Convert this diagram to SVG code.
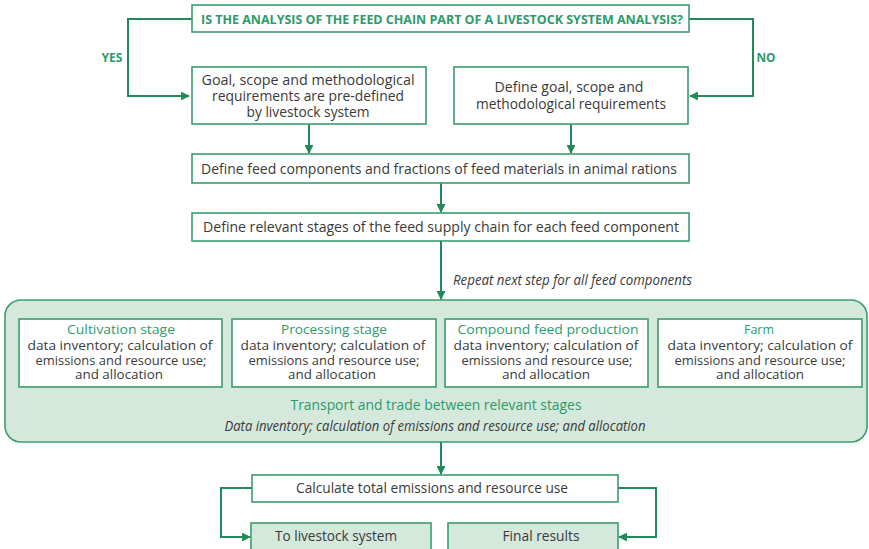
<svg xmlns="http://www.w3.org/2000/svg" width="869" height="549" viewBox="0 0 869 549">
  <style>
    .box { fill: #ffffff; stroke: #3a9d6f; stroke-width: 1.6; }
    .pale { fill: #d4e8dc; stroke: #3a9d6f; stroke-width: 1.6; }
    .wire { fill: none; stroke: #22895a; stroke-width: 2; }
    text { font-family: "Open Sans", "Noto Sans", "Liberation Sans", sans-serif; }
    .t { font-size: 14.5px; fill: #3a3a3a; text-anchor: middle; }
    .s { font-size: 13px; fill: #3a3a3a; text-anchor: middle; }
    .g { font-size: 14.5px; fill: #2e9a6b; text-anchor: middle; }
    .gs { font-size: 13.5px; fill: #2e9a6b; text-anchor: middle; }
    .cap { font-size: 13px; font-weight: bold; fill: #2e9a6b; text-anchor: middle; }
    .it { font-size: 14px; font-style: italic; fill: #3a3a3a; }
  </style>
  <defs>
    <marker id="arrow" viewBox="0 0 10 10" refX="9" refY="5" markerWidth="4.4" markerHeight="4.4" orient="auto" markerUnits="strokeWidth">
      <path d="M0,0 L10,5 L0,10 z" fill="#22895a"/>
    </marker>
  </defs>

  <rect width="869" height="549" fill="#ffffff"/>

  <!-- transport container behind the stage boxes -->
  <g id="transport">
    <rect x="5" y="300" width="862" height="142" rx="16" ry="16" class="pale" stroke="#5cae86"/>
    <text x="436" y="410" class="g" textLength="291" lengthAdjust="spacingAndGlyphs">Transport and trade between relevant stages</text>
    <text x="435" y="431" class="it" text-anchor="middle" textLength="421" lengthAdjust="spacingAndGlyphs">Data inventory; calculation of emissions and resource use; and allocation</text>
  </g>

  <!-- connectors -->
  <g id="connectors">
    <polyline class="wire" points="192,19 128,19 128,96 189,96" marker-end="url(#arrow)"/>
    <polyline class="wire" points="689,19 753,19 753,96 690,96" marker-end="url(#arrow)"/>
    <line class="wire" x1="309" y1="124" x2="309" y2="153" marker-end="url(#arrow)"/>
    <line class="wire" x1="571" y1="124" x2="571" y2="153" marker-end="url(#arrow)"/>
    <line class="wire" x1="441" y1="183" x2="441" y2="212" marker-end="url(#arrow)"/>
    <line class="wire" x1="441" y1="241" x2="441" y2="299" marker-end="url(#arrow)"/>
    <line class="wire" x1="441" y1="442" x2="441" y2="474" marker-end="url(#arrow)"/>
    <polyline class="wire" points="252,488 221,488 221,537 250,537" marker-end="url(#arrow)"/>
    <polyline class="wire" points="618,488 656,488 656,537 619,537" marker-end="url(#arrow)"/>
  </g>

  <g id="labels">
    <text x="112" y="61.5" class="cap" textLength="21" lengthAdjust="spacingAndGlyphs">YES</text>
    <text x="766" y="61.5" class="cap" textLength="19" lengthAdjust="spacingAndGlyphs">NO</text>
    <text x="453" y="284.5" class="it" textLength="239" lengthAdjust="spacingAndGlyphs">Repeat next step for all feed components</text>
  </g>

  <g id="question">
    <rect x="192" y="5" width="497" height="27" class="box"/>
    <text x="442" y="23.5" class="cap" textLength="482" lengthAdjust="spacingAndGlyphs">IS THE ANALYSIS OF THE FEED CHAIN PART OF A LIVESTOCK SYSTEM ANALYSIS?</text>
  </g>

  <g id="predefined">
    <rect x="192" y="67" width="234" height="57" class="box"/>
    <text x="308" y="85" class="t" textLength="213" lengthAdjust="spacingAndGlyphs">Goal, scope and methodological</text>
    <text x="308" y="101" class="t" textLength="192" lengthAdjust="spacingAndGlyphs">requirements are pre-defined</text>
    <text x="308" y="117" class="t" textLength="123" lengthAdjust="spacingAndGlyphs">by livestock system</text>
  </g>

  <g id="define-goal">
    <rect x="454" y="67" width="234" height="57" class="box"/>
    <text x="569" y="92" class="t" textLength="149" lengthAdjust="spacingAndGlyphs">Define goal, scope and</text>
    <text x="571" y="109" class="t" textLength="190" lengthAdjust="spacingAndGlyphs">methodological requirements</text>
  </g>

  <g id="feed-components">
    <rect x="192" y="154" width="497" height="29" class="box"/>
    <text x="439" y="174" class="t" textLength="476" lengthAdjust="spacingAndGlyphs">Define feed components and fractions of feed materials in animal rations</text>
  </g>

  <g id="supply-stages">
    <rect x="192" y="213" width="497" height="28" class="box"/>
    <text x="441" y="232" class="t" textLength="476" lengthAdjust="spacingAndGlyphs">Define relevant stages of the feed supply chain for each feed component</text>
  </g>

  <g id="cultivation">
    <rect x="19" y="319" width="203" height="68" class="box"/>
    <text x="121" y="334" class="gs" textLength="108" lengthAdjust="spacingAndGlyphs">Cultivation stage</text>
    <text x="120" y="349.5" class="s" textLength="185" lengthAdjust="spacingAndGlyphs">data inventory; calculation of</text>
    <text x="121" y="364.5" class="s" textLength="171" lengthAdjust="spacingAndGlyphs">emissions and resource use;</text>
    <text x="119" y="378.5" class="s" textLength="88" lengthAdjust="spacingAndGlyphs">and allocation</text>
  </g>

  <g id="processing">
    <rect x="232" y="319" width="204" height="68" class="box"/>
    <text x="334" y="334" class="gs" textLength="106" lengthAdjust="spacingAndGlyphs">Processing stage</text>
    <text x="333" y="349.5" class="s" textLength="185" lengthAdjust="spacingAndGlyphs">data inventory; calculation of</text>
    <text x="334" y="364.5" class="s" textLength="171" lengthAdjust="spacingAndGlyphs">emissions and resource use;</text>
    <text x="332" y="378.5" class="s" textLength="88" lengthAdjust="spacingAndGlyphs">and allocation</text>
  </g>

  <g id="compound">
    <rect x="445" y="319" width="203" height="68" class="box"/>
    <text x="548" y="334" class="gs" textLength="181" lengthAdjust="spacingAndGlyphs">Compound feed production</text>
    <text x="546" y="349.5" class="s" textLength="185" lengthAdjust="spacingAndGlyphs">data inventory; calculation of</text>
    <text x="547" y="364.5" class="s" textLength="171" lengthAdjust="spacingAndGlyphs">emissions and resource use;</text>
    <text x="546" y="378.5" class="s" textLength="88" lengthAdjust="spacingAndGlyphs">and allocation</text>
  </g>

  <g id="farm">
    <rect x="658" y="319" width="204" height="68" class="box"/>
    <text x="759" y="334" class="gs" textLength="30" lengthAdjust="spacingAndGlyphs">Farm</text>
    <text x="760" y="349.5" class="s" textLength="185" lengthAdjust="spacingAndGlyphs">data inventory; calculation of</text>
    <text x="760" y="364.5" class="s" textLength="171" lengthAdjust="spacingAndGlyphs">emissions and resource use;</text>
    <text x="760" y="378.5" class="s" textLength="88" lengthAdjust="spacingAndGlyphs">and allocation</text>
  </g>

  <g id="totals">
    <rect x="252" y="475" width="366" height="27" class="box"/>
    <text x="432" y="493" class="t" textLength="272" lengthAdjust="spacingAndGlyphs">Calculate total emissions and resource use</text>
  </g>

  <g id="to-livestock">
    <rect x="251" y="523" width="180" height="30" class="pale"/>
    <text x="336" y="541" class="t" textLength="122" lengthAdjust="spacingAndGlyphs">To livestock system</text>
  </g>

  <g id="final-results">
    <rect x="448" y="523" width="170" height="30" class="pale"/>
    <text x="541" y="541" class="t" textLength="77" lengthAdjust="spacingAndGlyphs">Final results</text>
  </g>
</svg>
